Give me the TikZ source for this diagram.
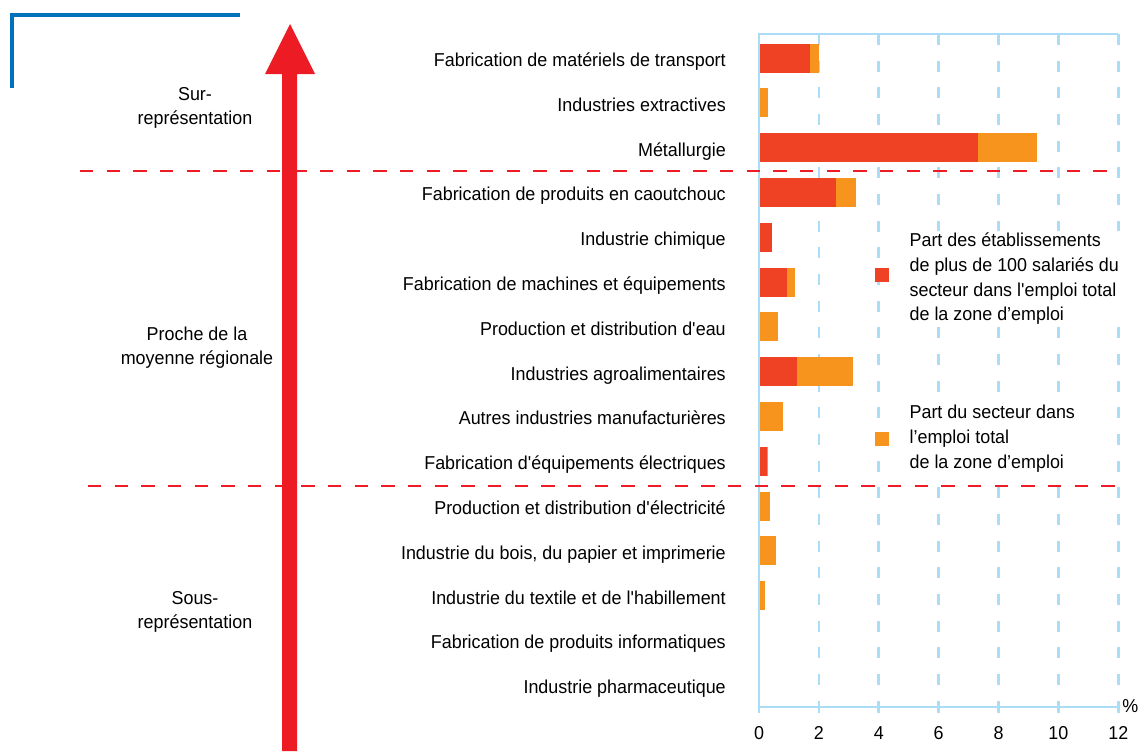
\documentclass[tikz,border=0pt]{standalone}
\usepackage{fontspec}
\setmainfont{Liberation Sans}[FakeStretch=0.96]
\definecolor{barred}{RGB}{239,65,35}
\definecolor{barorange}{RGB}{247,148,30}
\definecolor{linered}{RGB}{237,28,36}
\definecolor{gridblue}{RGB}{171,222,246}
\definecolor{cornerblue}{RGB}{0,114,188}
\tikzset{
  sector/.style={anchor=base east, inner sep=0pt, font=\fontsize{14}{16}\selectfont},
  zone/.style={align=center, inner sep=0pt, font=\fontsize{14}{18}\selectfont},
  legendtext/.style={anchor=west, align=left, fill=white, inner xsep=4pt, inner ysep=2pt, font=\fontsize{14}{18.5}\selectfont},
  legendbox/.style={minimum size=10.5pt, inner sep=0pt},
  ticklabel/.style={anchor=base, inner sep=0pt, font=\fontsize{14}{16}\selectfont},
  sepline/.style={linered, line width=1.9pt, dash pattern=on 10pt off 10pt},
  axisline/.style={gridblue, line width=2pt},
  gridline/.style={gridblue, line width=2pt, dash pattern=on 8.25pt off 11.75pt}
}
\begin{document}
\begin{tikzpicture}[x=0.75pt, y=-0.75pt]
\useasboundingbox (0,0) rectangle (1138,751);

% corner mark and arrow
\draw[cornerblue, line width=3pt] (12,88) -- (12,15) -- (240,15);
\fill[linered] (282,751) -- (282,74) -- (265,74) -- (290,24) -- (315,74) -- (297,74) -- (297,751) -- cycle;

% axes and grid
\begin{scope}[shift={(759,0)}, x=22.455pt]
\foreach \v in {2,4,...,12}
  \draw[gridline] (\v,34) -- (\v,707);
\foreach \v in {0,2,...,12}
  \draw[axisline] (\v,707) -- (\v,713);
\draw[axisline] (12,34) -- (0,34) -- (0,707) -- (12,707);

\node (t0) at (0,739.5) [ticklabel] {0};
\node (t2) at (2,739.5) [ticklabel] {2};
\node (t4) at (4,739.5) [ticklabel] {4};
\node (t6) at (6,739.5) [ticklabel] {6};
\node (t8) at (8,739.5) [ticklabel] {8};
\node (t10) at (10,739.5) [ticklabel] {10};
\node (t12) at (12,739.5) [ticklabel] {12};
\node (pct) at (12.4,706) [inner sep=0pt, font=\fontsize{14}{16}\selectfont] {\%};

% bars
\fill[barred] (0.04,43.5) rectangle (1.70,72.5);
\fill[barorange] (1.70,43.5) rectangle (2.00,72.5);
\fill[barorange] (0.04,88.3) rectangle (0.30,117.3);
\fill[barred] (0.04,133.1) rectangle (7.31,162.1);
\fill[barorange] (7.31,133.1) rectangle (9.30,162.1);
\fill[barred] (0.04,177.9) rectangle (2.57,206.9);
\fill[barorange] (2.57,177.9) rectangle (3.24,206.9);
\fill[barred] (0.04,222.7) rectangle (0.43,251.7);
\fill[barred] (0.04,267.5) rectangle (0.94,296.5);
\fill[barorange] (0.94,267.5) rectangle (1.20,296.5);
\fill[barorange] (0.04,312.3) rectangle (0.63,341.3);
\fill[barred] (0.04,357.1) rectangle (1.27,386.1);
\fill[barorange] (1.27,357.1) rectangle (3.14,386.1);
\fill[barorange] (0.04,401.9) rectangle (0.80,430.9);
\fill[barred] (0.04,446.7) rectangle (0.27,475.7);
\fill[barorange] (0.27,446.7) rectangle (0.30,475.7);
\fill[barorange] (0.04,491.5) rectangle (0.37,520.5);
\fill[barorange] (0.04,536.3) rectangle (0.57,565.3);
\fill[barorange] (0.04,581.1) rectangle (0.20,610.1);
\end{scope}

\draw[sepline] (80,171) -- (1118,171);
\draw[sepline] (88,486) -- (1128,486);

% sectors
\node (transport) at (726,66.5) [sector] {Fabrication de matériels de transport};
\node (extract) at (726,111.3) [sector] {Industries extractives};
\node (metal) at (726,156.1) [sector] {Métallurgie};
\node (caout) at (726,200.9) [sector] {Fabrication de produits en caoutchouc};
\node (chimie) at (726,245.7) [sector] {Industrie chimique};
\node (machines) at (726,290.5) [sector] {Fabrication de machines et équipements};
\node (eau) at (726,335.3) [sector] {Production et distribution d\textquotesingle eau};
\node (agro) at (726,380.1) [sector] {Industries agroalimentaires};
\node (autres) at (726,424.9) [sector] {Autres industries manufacturières};
\node (elec) at (726,469.7) [sector] {Fabrication d\textquotesingle équipements électriques};
\node (electricite) at (726,514.5) [sector] {Production et distribution d\textquotesingle électricité};
\node (bois) at (726,559.3) [sector] {Industrie du bois, du papier et imprimerie\ };
\node (textile) at (726,604.1) [sector] {Industrie du textile et de l\textquotesingle habillement};
\node (info) at (726,648.9) [sector] {Fabrication de produits informatiques};
\node (pharma) at (726,693.7) [sector] {Industrie pharmaceutique};

% zones
\node (sur) at (195,107.5) [zone] {Sur-\\représentation};
\node (proche) at (197,347.5) [zone] {Proche de la\\moyenne régionale};
\node (sous) at (195,611.5) [zone] {Sous-\\représentation};

% legend
\node (keyred) at (882,275) [legendbox, fill=barred] {};
\node (keyorange) at (882,439) [legendbox, fill=barorange] {};
\node (textred) at (904,279) [legendtext] {Part des établissements\\de plus de 100 salariés du\\secteur dans l\textquotesingle emploi total\\de la zone d’emploi};
\node (textorange) at (904,438.5) [legendtext] {Part du secteur dans\\l’emploi total\\de la zone d’emploi};
\end{tikzpicture}
\end{document}
